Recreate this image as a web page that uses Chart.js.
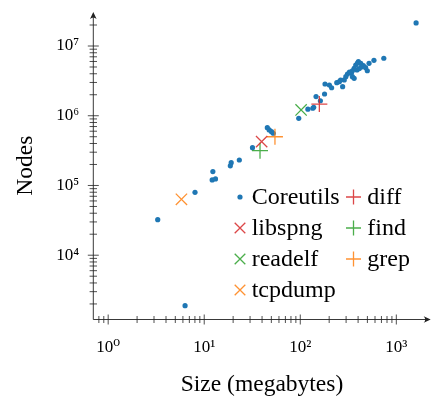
<!DOCTYPE html>
<html><head><meta charset="utf-8">
<script src="https://cdn.jsdelivr.net/npm/chart.js@4/dist/chart.umd.min.js"></script>
<style>html,body{margin:0;padding:0;background:#fff}</style>
</head><body>
<canvas id="c" width="440" height="402"></canvas>
<script>
// ---- data ----
const coreutilsSize = [1607, 741, 585, 520, 403, 426, 454, 479, 499, 378, 364, 349, 341, 310, 298, 287, 364, 349,
  276, 255, 240, 212, 181, 179, 146, 162, 138, 135, 120, 96.4, 45.4, 47.5, 50.2, 52.3, 31.8, 23.2, 19.1, 18.7,
  12.3, 12.1, 13.1, 8.02, 3.28, 6.32, 394, 433, 389, 325, 412, 263, 201];
const coreutilsNodes = [2.14e7, 6.67e6, 6.24e6, 5.65e6, 5.96e6, 5.65e6, 5.22e6, 4.89e6, 4.42e6, 5.34e6, 4.79e6, 4.42e6,
  4.14e6, 3.97e6, 3.63e6, 3.26e6, 3.44e6, 3.63e6, 2.61e6, 3.08e6, 2.98e6, 2.52e6, 2.85e6, 2.05e6, 1.88e6, 1.64e6,
  1.32e6, 1.28e6, 1.24e6, 9.18e5, 6.75e5, 6.25e5, 5.91e5, 5.61e5, 3.48e5, 2.32e5, 2.12e5, 1.91e5, 1.58e5, 1.20e5,
  1.24e5, 7.98e4, 3.23e4, 1.89e3, 5.70e6, 5.00e6, 4.53e6, 4.24e6, 4.75e6, 3.25e6, 2.76e6];
const diffSize = [158],    diffNodes = [1.47e6];
const libspngSize = [39.6], libspngNodes = [4.25e5];
const findSize = [38.1],   findNodes = [3.15e5];
const readelfSize = [102], readelfNodes = [1.21e6];
const grepSize = [54.5],   grepNodes = [5.00e5];
const tcpdumpSize = [5.79], tcpdumpNodes = [6.34e4];

const xTickValues = [1, 10, 100, 1000];
const xTickLabels = ['10⁰', '10¹', '10²', '10³'];
const yTickValues = [1e4, 1e5, 1e6, 1e7];
const yTickLabels = ['10⁴', '10⁵', '10⁶', '10⁷'];
const xTitle = 'Size (megabytes)';
const yTitle = 'Nodes';

// ---- helpers ----
const pts = (xs, ys) => xs.map((v, i) => ({x: v, y: ys[i]}));
const FONT = '"Liberation Serif", "DejaVu Serif", serif';
const BLUE = '#1f77b4', RED = 'rgba(214,39,40,0.85)', GREEN = 'rgba(44,160,44,0.85)', ORANGE = 'rgba(255,127,14,0.85)';

function crossSet(label, xs, ys, style, color) {
  return {label, data: pts(xs, ys), pointStyle: style, pointRadius: 8, pointHoverRadius: 8,
    borderColor: color, backgroundColor: color, pointBorderWidth: 1.3, showLine: false, order: 0};
}

const datasets = [
  {label: 'Coreutils', data: pts(coreutilsSize, coreutilsNodes), pointStyle: 'circle', pointRadius: 2.6,
   pointHoverRadius: 2.6, backgroundColor: BLUE, borderColor: BLUE, pointBorderWidth: 0, showLine: false, order: 1},
  crossSet('diff', diffSize, diffNodes, 'cross', RED),
  crossSet('libspng', libspngSize, libspngNodes, 'crossRot', RED),
  crossSet('find', findSize, findNodes, 'cross', GREEN),
  crossSet('readelf', readelfSize, readelfNodes, 'crossRot', GREEN),
  crossSet('grep', grepSize, grepNodes, 'cross', ORANGE),
  crossSet('tcpdump', tcpdumpSize, tcpdumpNodes, 'crossRot', ORANGE),
];

// axes with arrows and ticks crossing the axis lines
const axesPlugin = {
  id: 'axesLines',
  beforeDatasetsDraw(chart) {
    const {ctx, chartArea: a, scales: {x, y}} = chart;
    ctx.save();
    ctx.strokeStyle = '#222'; ctx.fillStyle = '#222'; ctx.lineWidth = 0.9;
    const x0 = a.left, y0 = a.bottom;
    ctx.beginPath(); ctx.moveTo(x0, y0); ctx.lineTo(a.right - 3, y0); ctx.stroke();
    ctx.beginPath(); ctx.moveTo(x0, y0); ctx.lineTo(x0, a.top + 3); ctx.stroke();
    // arrow heads
    ctx.beginPath(); ctx.moveTo(a.right, y0); ctx.lineTo(a.right - 7, y0 - 3.3);
    ctx.quadraticCurveTo(a.right - 4, y0, a.right - 7, y0 + 3.3); ctx.closePath(); ctx.fill();
    ctx.beginPath(); ctx.moveTo(x0, a.top); ctx.lineTo(x0 - 3.3, a.top + 7);
    ctx.quadraticCurveTo(x0, a.top + 4, x0 + 3.3, a.top + 7); ctx.closePath(); ctx.fill();
    const decade = (min, max) => {
      const out = [];
      for (let d = Math.floor(Math.log10(min)); d <= Math.ceil(Math.log10(max)); d++)
        for (let m = 1; m <= 9; m++) { const v = m * Math.pow(10, d); if (v >= min * 0.999 && v <= max) out.push({v, major: m === 1}); }
      return out;
    };
    ctx.lineWidth = 0.8;
    decade(x.min, x.max).forEach(t => {
      const p = x.getPixelForValue(t.v);
      if (p > a.right - 8 || p < a.left + 1) return;
      const l = t.major ? 5 : 3.5;
      ctx.beginPath(); ctx.moveTo(p, y0 - l); ctx.lineTo(p, y0 + l); ctx.stroke();
    });
    decade(y.min, y.max).forEach(t => {
      const p = y.getPixelForValue(t.v);
      if (p < a.top + 8 || p > a.bottom - 1) return;
      const l = t.major ? 5.5 : 3.7;
      ctx.beginPath(); ctx.moveTo(x0 - l, p); ctx.lineTo(x0 + l, p); ctx.stroke();
    });
    ctx.restore();
  }
};

// two-column legend inside the plot (row-major)
const legendPlugin = {
  id: 'innerLegend',
  afterDatasetsDraw(chart) {
    const {ctx} = chart;
    const colX = [240, 353.5], textDX = [11.7, 13.8], rowY = [197, 228, 259, 290];
    ctx.save();
    ctx.font = '24px ' + FONT; ctx.textBaseline = 'middle'; ctx.fillStyle = '#000';
    chart.data.datasets.forEach((ds, i) => {
      const c = i % 2, r = Math.floor(i / 2);
      const cx = colX[c], cy = rowY[r];
      ctx.save();
      ctx.strokeStyle = ds.borderColor; ctx.fillStyle = ds.backgroundColor; ctx.lineWidth = ds.pointBorderWidth || 1;
      Chart.helpers.drawPoint(ctx, {pointStyle: ds.pointStyle, radius: ds.pointStyle === 'circle' ? 2.6 : 7.5, borderWidth: ds.pointBorderWidth, rotation: 0}, cx, cy);
      ctx.restore();
      ctx.fillStyle = '#000';
      ctx.fillText(ds.label, cx + textDX[c], cy + 1);
    });
    ctx.restore();
  }
};

const noPad = s => { s.paddingTop = 0; s.paddingBottom = 0; s.paddingLeft = 0; s.paddingRight = 0; };

new Chart(document.getElementById('c'), {
  type: 'scatter',
  data: {datasets},
  options: {
    responsive: false, devicePixelRatio: 1, animation: false,
    layout: {padding: {top: 12, right: 6, left: 0, bottom: 0}},
    plugins: {legend: {display: false}, tooltip: {enabled: false}},
    scales: {
      x: {
        type: 'logarithmic', min: 0.7, max: Math.pow(10, 3.358),
        grid: {display: false, drawTicks: false}, border: {display: false},
        afterBuildTicks: s => { s.ticks = xTickValues.map(v => ({value: v})); },
        afterFit: s => { s.height = 82.5; noPad(s); },
        ticks: {autoSkip: false, maxRotation: 0, padding: 18, color: '#000', font: {family: FONT, size: 17},
          callback: v => xTickLabels[xTickValues.indexOf(v)] ?? ''},
        title: {display: true, text: xTitle, color: '#000', font: {family: FONT, size: 23.5}, padding: {top: 0, bottom: 3}}
      },
      y: {
        type: 'logarithmic', min: Math.pow(10, 3.078), max: Math.pow(10, 7.4876),
        grid: {display: false, drawTicks: false}, border: {display: false},
        afterBuildTicks: s => { s.ticks = yTickValues.map(v => ({value: v})); },
        afterFit: s => { s.width = 93.3; noPad(s); },
        ticks: {autoSkip: false, padding: 14, color: '#000', font: {family: FONT, size: 17},
          callback: v => yTickLabels[yTickValues.indexOf(v)] ?? ''},
        title: {display: true, text: yTitle, color: '#000', font: {family: FONT, size: 23.5}, padding: {top: 12, bottom: 0}}
      }
    }
  },
  plugins: [axesPlugin, legendPlugin]
});
</script>
</body></html>
